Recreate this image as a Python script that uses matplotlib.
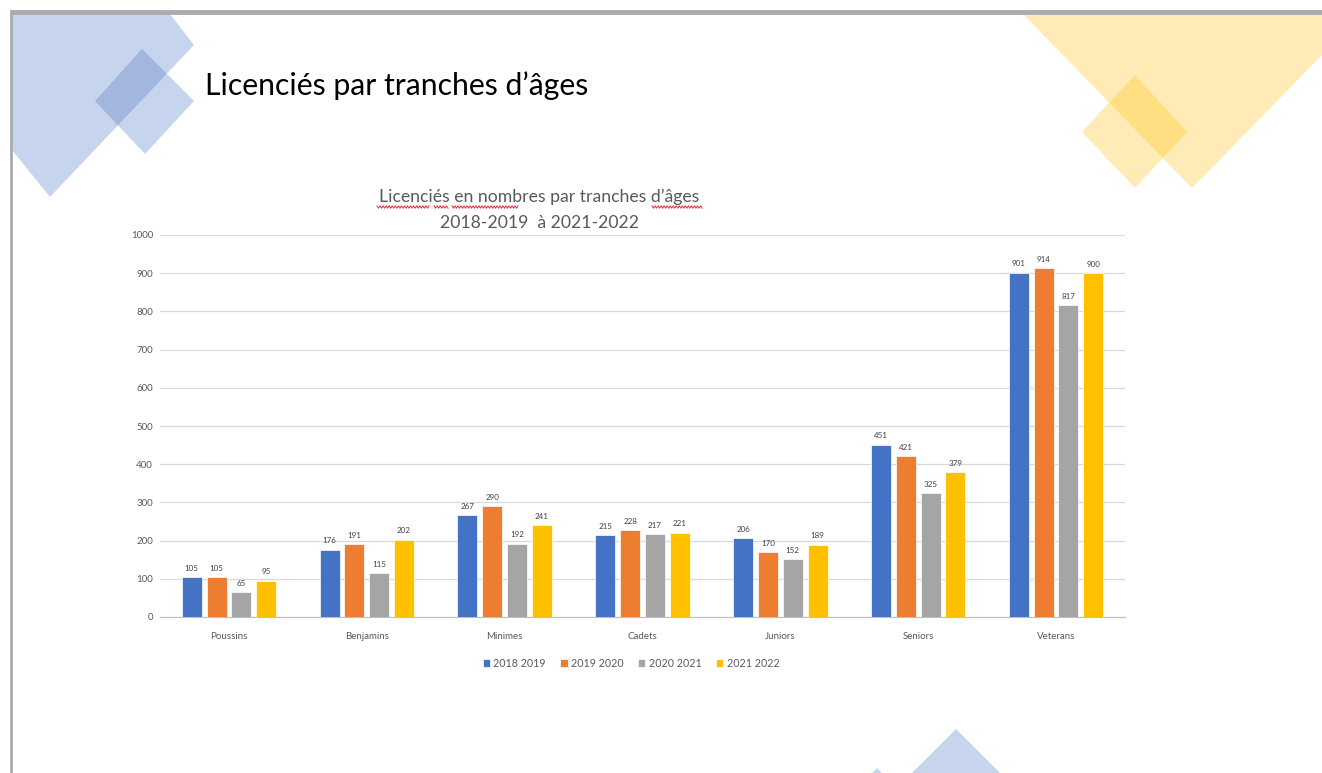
import numpy as np
import matplotlib
matplotlib.use('Agg')
import matplotlib.pyplot as plt
from matplotlib.patches import Polygon

# data
categories = ['Poussins', 'Benjamins', 'Minimes', 'Cadets', 'Juniors', 'Seniors', 'Veterans']
seasons = ['2018 2019', '2019 2020', '2020 2021', '2021 2022']
s2018 = [105, 176, 267, 215, 206, 451, 901]
s2019 = [105, 191, 290, 228, 170, 421, 914]
s2020 = [65, 115, 192, 217, 152, 325, 817]
s2021 = [95, 202, 241, 221, 189, 379, 900]
colors = ['#4472c4', '#ed7d31', '#a5a5a5', '#ffc000']

W, H = 1322, 773
fig = plt.figure(figsize=(W / 100, H / 100), dpi=100)

# slide background, in pixel coordinates
bg = fig.add_axes([0, 0, 1, 1])
bg.set_xlim(0, W)
bg.set_ylim(H, 0)
bg.axis('off')

blue = '#c7d4ed'
yellow = '#ffebb5'
shapes = [
    ([(12, 14), (170, 14), (194, 45), (50, 197), (12, 150)], blue),
    ([(142, 49), (194, 101), (145, 154), (95, 101)], blue),
    ([(142, 49), (166.8, 73.8), (117.9, 125.3), (95, 101)], '#a3b6df'),
    ([(1023, 14), (1322, 14), (1322, 55), (1192, 188)], yellow),
    ([(1135, 75), (1187, 132), (1135, 188), (1082, 132)], yellow),
    ([(1109.2, 102.7), (1135, 75), (1187, 132), (1162.9, 157.9)], '#ffdf82'),
    ([(956, 729), (1000, 773), (912, 773)], blue),
    ([(877, 768), (882, 773), (872, 773)], blue),
]
for pts, c in shapes:
    bg.add_patch(Polygon(pts, closed=True, facecolor=c, edgecolor='none'))

# slide border
bg.plot([10, W], [11.5, 11.5], color='#a9abae', lw=3.5, solid_capstyle='butt')
bg.plot([10.5, 10.5], [10, H], color='#a9abae', lw=2, solid_capstyle='butt')

plt.rcParams['font.family'] = ['Lato', 'DejaVu Sans']

fig.text(205 / W, 1 - 86 / H, 'Licenciés par tranches d’âges', fontsize=21.7,
         va='center', ha='left', color='black')
fig.text(539 / W, 1 - 197 / H, 'Licenciés en nombres par tranches d’âges', fontsize=12.7,
         va='center', ha='center', color='#595959')
fig.text(539 / W, 1 - 223 / H, '2018-2019  à 2021-2022', fontsize=12.7,
         va='center', ha='center', color='#595959')

# spell-check wavy underlines
for x0, x1 in [(377, 429), (434, 448), (452, 518), (652, 702)]:
    xs = np.linspace(x0, x1, int((x1 - x0) / 1.5) + 1)
    ys = 207 + 1.2 * np.where(np.arange(len(xs)) % 2 == 0, -1, 1)
    bg.plot(xs, ys, color='#e03030', lw=0.7)

# chart
ax = fig.add_axes([160 / W, 1 - 617 / H, 965 / W, 382 / H])
x = np.arange(len(categories))
width = 0.145
offsets = [-0.27, -0.09, 0.09, 0.27]
series = [s2018, s2019, s2020, s2021]
for vals, off, col, lab in zip(series, offsets, colors, seasons):
    bars = ax.bar(x + off, vals, width, color=col, label=lab, edgecolor='white', linewidth=0.5, zorder=3)
    for b, v in zip(bars, vals):
        ax.text(b.get_x() + b.get_width() / 2, v + 14, str(v), ha='center', va='bottom',
                fontsize=5.8, color='#404040')

ax.set_xlim(-0.5, len(categories) - 0.5)
ax.set_ylim(0, 1000)
ax.set_yticks(range(0, 1001, 100))
ax.grid(axis='y', color='#d9d9d9', lw=0.9, zorder=0)
ax.set_xticks(x)
ax.set_xticklabels(categories)
ax.tick_params(axis='both', length=0, labelsize=7, colors='#595959')
ax.tick_params(axis='x', pad=11)
ax.tick_params(axis='y', pad=5)
for s in ['top', 'right', 'left']:
    ax.spines[s].set_visible(False)
ax.spines['bottom'].set_color('#bfbfbf')
ax.patch.set_alpha(0)

ax.legend(loc='upper center', bbox_to_anchor=(0.488, -0.082), ncol=4, frameon=False,
          fontsize=7.7, handlelength=0.7, handleheight=0.7, handletextpad=0.3,
          columnspacing=1.35, labelcolor='#595959')

fig.savefig('out.png', dpi=100)
